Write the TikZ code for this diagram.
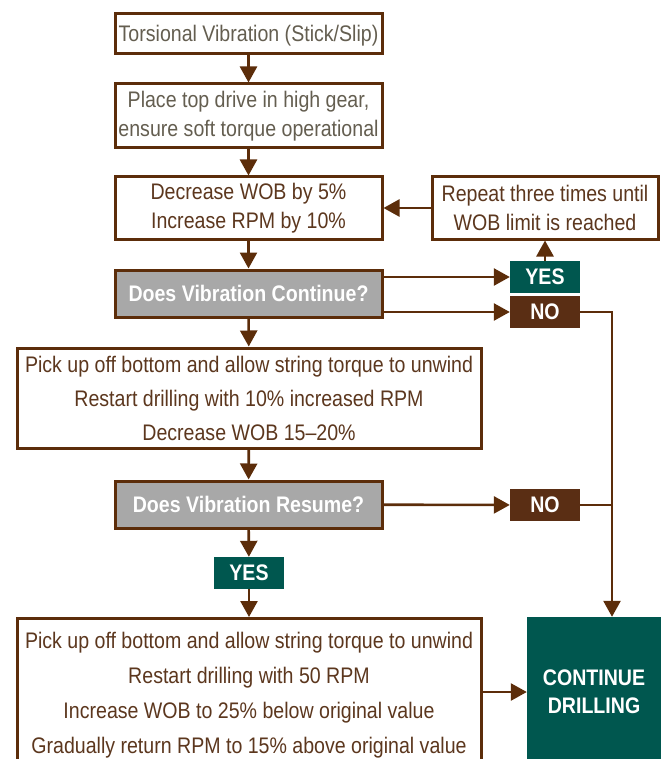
\documentclass[tikz,border=0pt]{standalone}
\usepackage{fontspec}
\setmainfont{Liberation Sans}[FakeStretch=0.87]
\usepackage{xcolor}
\usepackage{tikz}
\usetikzlibrary{arrows.meta, positioning}
\definecolor{linebrown}{RGB}{92,45,10}
\definecolor{nobrown}{RGB}{90,46,20}
\definecolor{yesteal}{RGB}{0,87,79}
\definecolor{askgray}{RGB}{168,168,168}
\definecolor{textbrown}{RGB}{92,55,30}
\definecolor{textgray}{RGB}{100,94,80}

\begin{document}
\begin{tikzpicture}[x=1pt, y=-1pt,
    box/.style={rectangle, draw=linebrown, line width=3pt, fill=white, minimum width=267pt, inner sep=0pt, align=center, text=textbrown, font=\fontsize{22.5}{29}\selectfont},
    ask/.style={box, fill=askgray, minimum height=47pt, text=white, font=\fontsize{22.5}{29}\selectfont\bfseries},
    tag/.style={rectangle, minimum width=70pt, minimum height=32pt, inner sep=0pt, text=white, font=\fontsize{22.5}{25}\selectfont\bfseries},
    arrow/.style={-{Triangle[length=16pt, width=17pt]}, line width=2.6pt, draw=linebrown}
]
\useasboundingbox (0,0) rectangle (663,759);
\clip (0,0) rectangle (663,759);

\node[box, text=textgray, minimum height=40pt, text depth=2pt] (torsion) at (248.5,34) {Torsional Vibration (Stick/Slip)};
\node[box, text=textgray, minimum height=64pt] (highgear) at (248.5,116) {Place top drive in high gear,\\ensure soft torque operational};
\node[box, minimum height=62pt] (decrease) at (248.5,208) {Decrease WOB by 5\%\\Increase RPM by 10\%};
\node[box, minimum width=226pt, minimum height=62pt] (repeat) at (545,208) {Repeat three times until\\WOB limit is reached};

\node[ask] (continue) at (248.5,293.5) {Does Vibration Continue?};
\node[tag, fill=yesteal] (yesone) at (545,277) {YES};
\node[tag, fill=nobrown] (noone) at (545,312) {NO};

\node[box, minimum width=464pt, minimum height=100pt, font=\fontsize{22.5}{34}\selectfont] (pickup) at (249,398) {Pick up off bottom and allow string torque to unwind\\Restart drilling with 10\% increased RPM\\Decrease WOB 15--20\%};

\node[ask] (resume) at (248.5,504.5) {Does Vibration Resume?};
\node[tag, fill=nobrown] (notwo) at (545,505) {NO};
\node[tag, fill=yesteal] (yestwo) at (249,573) {YES};

\node[box, anchor=north, minimum width=464pt, inner ysep=14pt, font=\fontsize{22.5}{35}\selectfont] (restart) at (249,617) {Pick up off bottom and allow string torque to unwind\\Restart drilling with 50 RPM\\Increase WOB to 25\% below original value\\Gradually return RPM to 15\% above original value\\[8pt]};
\node[rectangle, fill=yesteal, minimum width=134pt, minimum height=150pt, align=center, text=white, font=\fontsize{22.5}{28}\selectfont\bfseries] (drilling) at (594,692) {CONTINUE\\DRILLING};

\coordinate (rail) at (612,0);

\draw[arrow] (torsion) -- (highgear);
\draw[arrow] (highgear) -- (decrease);
\draw[arrow] (decrease) -- (continue);
\draw[arrow] (repeat) -- (decrease);
\draw[arrow] (continue.east |- yesone) -- (yesone);
\draw[arrow] (continue.east |- noone) -- (noone);
\draw[arrow] (yesone) -- (repeat);
\draw[arrow] (noone.east) -| (drilling.north -| rail);
\draw[arrow] (continue) -- (pickup);
\draw[arrow] (pickup) -- (resume);
\draw[arrow] (resume) -- (notwo);
\draw[line width=2.6pt, draw=linebrown] (notwo.east) -- (rail |- notwo);
\draw[arrow] (resume) -- (yestwo);
\draw[arrow] (yestwo) -- (restart);
\draw[arrow] (restart.east |- drilling) -- (drilling);

\end{tikzpicture}
\end{document}
